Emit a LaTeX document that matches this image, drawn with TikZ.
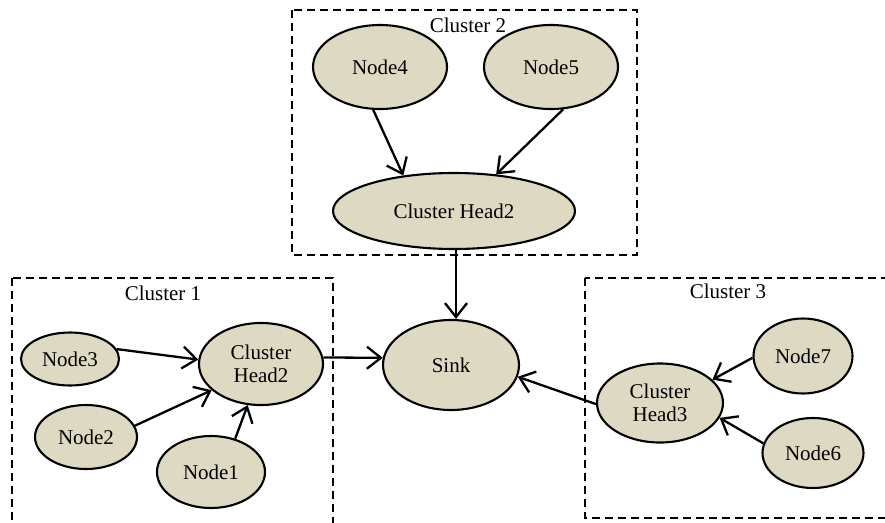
\documentclass[tikz,border=0pt]{standalone}
\usepackage{fontspec}
\setmainfont{Liberation Serif}
\usetikzlibrary{shapes.geometric,arrows.meta}
\definecolor{nodefill}{RGB}{221,217,195}
\begin{document}
\begin{tikzpicture}[x=1pt,y=-1pt,
  nd/.style={ellipse,draw=black,line width=2.1pt,fill=nodefill,inner sep=0pt,align=center,font=\fontsize{21}{23}\selectfont},
  cl/.style={draw=black,line width=2pt,dash pattern=on 8pt off 5pt},
  lbl/.style={anchor=base,inner sep=0pt,font=\fontsize{21}{23}\selectfont},
  arr/.style={draw=black,line width=2.3pt,-{Straight Barb[length=14pt,width=22pt]}}]
\useasboundingbox (0,0) rectangle (885,522);
\clip (0,0) rectangle (885,522);
% cluster boxes
\draw[cl] (292,10) rectangle (637,255);
\draw[cl] (12,278) rectangle (333,540);
\draw[cl] (585,278) rectangle (900,518);
\node[lbl] (l2) at (468,32) {Cluster 2};
\node[lbl] (l1) at (163,300) {Cluster 1};
\node[lbl] (l3) at (728,298) {Cluster 3};
% cluster 2
\node[nd,minimum width=134pt,minimum height=84pt] (n4) at (380,67) {Node4};
\node[nd,minimum width=134pt,minimum height=84pt] (n5) at (551,67) {Node5};
\node[nd,minimum width=242pt,minimum height=76pt] (ch2) at (454,211) {Cluster Head2};
% sink
\node[nd,minimum width=136pt,minimum height=90pt] (sink) at (451,365) {Sink};
% cluster 1
\node[nd,minimum width=98pt,minimum height=53pt] (n3) at (70,359) {Node3};
\node[nd,minimum width=124pt,minimum height=82pt] (ch1) at (261,364) {Cluster\\Head2};
\node[nd,minimum width=102pt,minimum height=64pt] (n2) at (86,437) {Node2};
\node[nd,minimum width=108pt,minimum height=72pt] (n1) at (211,472) {Node1};
% cluster 3
\node[nd,minimum width=99pt,minimum height=75pt] (n7) at (803,356) {Node7};
\node[nd,minimum width=126pt,minimum height=79pt] (ch3) at (660,403) {Cluster\\Head3};
\node[nd,minimum width=101pt,minimum height=70pt] (n6) at (813,453) {Node6};
% connectors
\draw[arr] (n4.261) -- (ch2.145);
\draw[arr] (n5.-74) -- (ch2.41);
\draw[arr] (ch2.south -| 456,0) -- (456,0 |- sink.north);
\draw[arr] (n3.12) -- (ch1.176);
\draw[arr] (n2.13) -- (ch1.208);
\draw[arr] (n1.54) -- (ch1.252);
\draw[arr] (ch1.6) -- (sink.174);
\draw[arr] (n7.182) -- (ch3.24);
\draw[arr] (n6.169) -- (ch3.-14);
\draw[arr] (ch3.181) -- (sink.-10);
\end{tikzpicture}
\end{document}
